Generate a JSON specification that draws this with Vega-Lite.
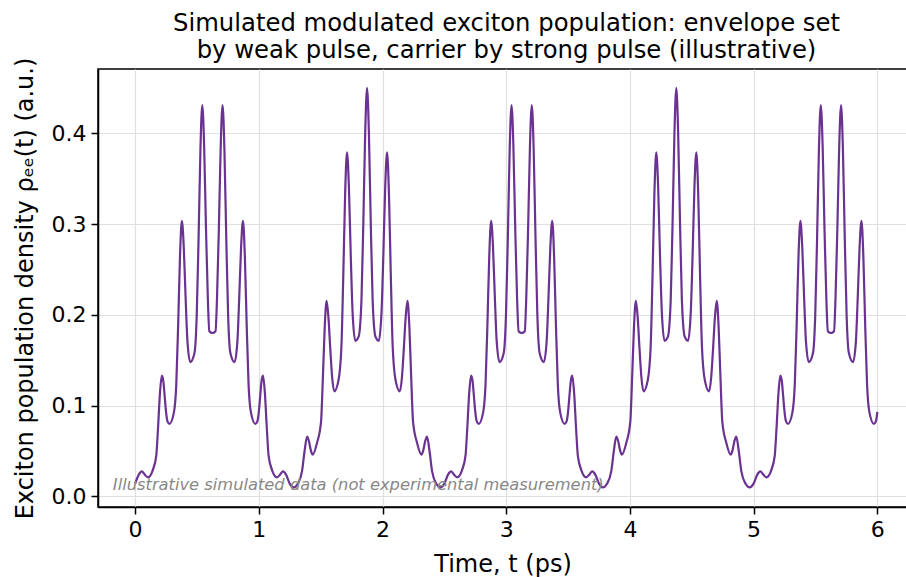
{
 "$schema": "https://vega.github.io/schema/vega-lite/v6.json",
 "width": 809,
 "height": 438,
 "autosize": {"type": "none"},
 "padding": {"left": 98, "top": 69, "right": 0, "bottom": 70},
 "background": "white",
 "config": {
  "font": "DejaVu Sans",
  "view": {"stroke": "#000", "strokeWidth": 1.5},
  "axis": {
   "labelFont": "DejaVu Sans", "titleFont": "DejaVu Sans",
   "labelFontSize": 22, "titleFontSize": 24, "titleFontWeight": "normal",
   "labelColor": "#000", "titleColor": "#000",
   "tickColor": "#000", "tickWidth": 1.5, "tickSize": 7,
   "domainColor": "#000", "domainWidth": 1.5,
   "grid": true, "gridColor": "#e0e0e0", "gridWidth": 1.2,
   "labelPadding": 5
  }
 },
 "title": {
  "text": ["Simulated modulated exciton population: envelope set", "by weak pulse, carrier by strong pulse (illustrative)"],
  "font": "DejaVu Sans", "fontSize": 24.3, "fontWeight": "normal", "color": "#000",
  "lineHeight": 27, "anchor": "middle", "dx": 4, "offset": 14, "baseline": "alphabetic", "dy": 39
 },
 "layer": [
  {
   "data": {"values": [
{"t":0.000,"v":0.014},{"t":0.030,"v":0.024},{"t":0.054,"v":0.0275},{"t":0.078,"v":0.024},{"t":0.103,"v":0.021},{"t":0.143,"v":0.029},{"t":0.171,"v":0.045},{"t":0.186,"v":0.077},{"t":0.201,"v":0.114},{"t":0.216,"v":0.133},{"t":0.228,"v":0.127},{"t":0.238,"v":0.112},{"t":0.250,"v":0.093},{"t":0.261,"v":0.083},{"t":0.278,"v":0.080},{"t":0.313,"v":0.092},{"t":0.333,"v":0.124},{"t":0.348,"v":0.189},{"t":0.363,"v":0.265},{"t":0.378,"v":0.3035},{"t":0.393,"v":0.2755},{"t":0.408,"v":0.220},{"t":0.423,"v":0.171},{"t":0.446,"v":0.148},{"t":0.480,"v":0.158},{"t":0.498,"v":0.199},{"t":0.513,"v":0.284},{"t":0.528,"v":0.382},{"t":0.543,"v":0.431},{"t":0.558,"v":0.386},{"t":0.573,"v":0.295},{"t":0.588,"v":0.218},{"t":0.600,"v":0.182},{"t":0.625,"v":0.180},{"t":0.650,"v":0.182},{"t":0.662,"v":0.218},{"t":0.677,"v":0.295},{"t":0.692,"v":0.386},{"t":0.707,"v":0.431},{"t":0.722,"v":0.382},{"t":0.737,"v":0.284},{"t":0.752,"v":0.199},{"t":0.770,"v":0.158},{"t":0.804,"v":0.148},{"t":0.827,"v":0.171},{"t":0.842,"v":0.220},{"t":0.857,"v":0.2755},{"t":0.872,"v":0.3035},{"t":0.887,"v":0.265},{"t":0.902,"v":0.189},{"t":0.917,"v":0.124},{"t":0.937,"v":0.092},{"t":0.972,"v":0.080},{"t":0.989,"v":0.083},{"t":1.000,"v":0.093},{"t":1.012,"v":0.112},{"t":1.022,"v":0.127},{"t":1.034,"v":0.133},{"t":1.049,"v":0.114},{"t":1.064,"v":0.077},{"t":1.079,"v":0.045},{"t":1.107,"v":0.029},{"t":1.147,"v":0.021},{"t":1.172,"v":0.024},{"t":1.196,"v":0.0275},{"t":1.220,"v":0.024},{"t":1.250,"v":0.014},{"t":1.281,"v":0.0099},{"t":1.315,"v":0.014},{"t":1.349,"v":0.0275},{"t":1.370,"v":0.050},{"t":1.390,"v":0.066},{"t":1.405,"v":0.061},{"t":1.420,"v":0.051},{"t":1.435,"v":0.046},{"t":1.470,"v":0.0587},{"t":1.503,"v":0.082},{"t":1.518,"v":0.131},{"t":1.533,"v":0.187},{"t":1.548,"v":0.2155},{"t":1.563,"v":0.197},{"t":1.578,"v":0.162},{"t":1.593,"v":0.131},{"t":1.610,"v":0.1157},{"t":1.645,"v":0.1285},{"t":1.668,"v":0.166},{"t":1.683,"v":0.244},{"t":1.698,"v":0.334},{"t":1.713,"v":0.379},{"t":1.728,"v":0.342},{"t":1.743,"v":0.267},{"t":1.758,"v":0.203},{"t":1.780,"v":0.1714},{"t":1.807,"v":0.176},{"t":1.830,"v":0.217},{"t":1.845,"v":0.302},{"t":1.860,"v":0.400},{"t":1.875,"v":0.450},{"t":1.890,"v":0.400},{"t":1.905,"v":0.302},{"t":1.920,"v":0.217},{"t":1.943,"v":0.176},{"t":1.970,"v":0.1714},{"t":1.992,"v":0.203},{"t":2.007,"v":0.267},{"t":2.022,"v":0.342},{"t":2.037,"v":0.379},{"t":2.052,"v":0.334},{"t":2.067,"v":0.244},{"t":2.082,"v":0.166},{"t":2.105,"v":0.1285},{"t":2.140,"v":0.1157},{"t":2.157,"v":0.131},{"t":2.172,"v":0.162},{"t":2.187,"v":0.197},{"t":2.202,"v":0.2155},{"t":2.217,"v":0.187},{"t":2.232,"v":0.131},{"t":2.247,"v":0.082},{"t":2.280,"v":0.0587},{"t":2.315,"v":0.046},{"t":2.330,"v":0.051},{"t":2.345,"v":0.061},{"t":2.360,"v":0.066},{"t":2.380,"v":0.050},{"t":2.401,"v":0.0275},{"t":2.435,"v":0.014},{"t":2.469,"v":0.0099},
{"t":2.500,"v":0.014},{"t":2.530,"v":0.024},{"t":2.554,"v":0.0275},{"t":2.578,"v":0.024},{"t":2.603,"v":0.021},{"t":2.643,"v":0.029},{"t":2.671,"v":0.045},{"t":2.686,"v":0.077},{"t":2.701,"v":0.114},{"t":2.716,"v":0.133},{"t":2.728,"v":0.127},{"t":2.738,"v":0.112},{"t":2.750,"v":0.093},{"t":2.761,"v":0.083},{"t":2.778,"v":0.080},{"t":2.813,"v":0.092},{"t":2.833,"v":0.124},{"t":2.848,"v":0.189},{"t":2.863,"v":0.265},{"t":2.878,"v":0.3035},{"t":2.893,"v":0.2755},{"t":2.908,"v":0.220},{"t":2.923,"v":0.171},{"t":2.946,"v":0.148},{"t":2.980,"v":0.158},{"t":2.998,"v":0.199},{"t":3.013,"v":0.284},{"t":3.028,"v":0.382},{"t":3.043,"v":0.431},{"t":3.058,"v":0.386},{"t":3.073,"v":0.295},{"t":3.088,"v":0.218},{"t":3.100,"v":0.182},{"t":3.125,"v":0.180},{"t":3.150,"v":0.182},{"t":3.162,"v":0.218},{"t":3.177,"v":0.295},{"t":3.192,"v":0.386},{"t":3.207,"v":0.431},{"t":3.222,"v":0.382},{"t":3.237,"v":0.284},{"t":3.252,"v":0.199},{"t":3.270,"v":0.158},{"t":3.304,"v":0.148},{"t":3.327,"v":0.171},{"t":3.342,"v":0.220},{"t":3.357,"v":0.2755},{"t":3.372,"v":0.3035},{"t":3.387,"v":0.265},{"t":3.402,"v":0.189},{"t":3.417,"v":0.124},{"t":3.437,"v":0.092},{"t":3.472,"v":0.080},{"t":3.489,"v":0.083},{"t":3.500,"v":0.093},{"t":3.512,"v":0.112},{"t":3.522,"v":0.127},{"t":3.534,"v":0.133},{"t":3.549,"v":0.114},{"t":3.564,"v":0.077},{"t":3.579,"v":0.045},{"t":3.607,"v":0.029},{"t":3.647,"v":0.021},{"t":3.672,"v":0.024},{"t":3.696,"v":0.0275},{"t":3.720,"v":0.024},{"t":3.750,"v":0.014},{"t":3.781,"v":0.0099},{"t":3.815,"v":0.014},{"t":3.849,"v":0.0275},{"t":3.870,"v":0.050},{"t":3.890,"v":0.066},{"t":3.905,"v":0.061},{"t":3.920,"v":0.051},{"t":3.935,"v":0.046},{"t":3.970,"v":0.0587},{"t":4.003,"v":0.082},{"t":4.018,"v":0.131},{"t":4.033,"v":0.187},{"t":4.048,"v":0.2155},{"t":4.063,"v":0.197},{"t":4.078,"v":0.162},{"t":4.093,"v":0.131},{"t":4.110,"v":0.1157},{"t":4.145,"v":0.1285},{"t":4.168,"v":0.166},{"t":4.183,"v":0.244},{"t":4.198,"v":0.334},{"t":4.213,"v":0.379},{"t":4.228,"v":0.342},{"t":4.243,"v":0.267},{"t":4.258,"v":0.203},{"t":4.280,"v":0.1714},{"t":4.307,"v":0.176},{"t":4.330,"v":0.217},{"t":4.345,"v":0.302},{"t":4.360,"v":0.400},{"t":4.375,"v":0.450},{"t":4.390,"v":0.400},{"t":4.405,"v":0.302},{"t":4.420,"v":0.217},{"t":4.443,"v":0.176},{"t":4.470,"v":0.1714},{"t":4.492,"v":0.203},{"t":4.507,"v":0.267},{"t":4.522,"v":0.342},{"t":4.537,"v":0.379},{"t":4.552,"v":0.334},{"t":4.567,"v":0.244},{"t":4.582,"v":0.166},{"t":4.605,"v":0.1285},{"t":4.640,"v":0.1157},{"t":4.657,"v":0.131},{"t":4.672,"v":0.162},{"t":4.687,"v":0.197},{"t":4.702,"v":0.2155},{"t":4.717,"v":0.187},{"t":4.732,"v":0.131},{"t":4.747,"v":0.082},{"t":4.780,"v":0.0587},{"t":4.815,"v":0.046},{"t":4.830,"v":0.051},{"t":4.845,"v":0.061},{"t":4.860,"v":0.066},{"t":4.880,"v":0.050},{"t":4.901,"v":0.0275},{"t":4.935,"v":0.014},{"t":4.969,"v":0.0099},
{"t":5.000,"v":0.014},{"t":5.030,"v":0.024},{"t":5.054,"v":0.0275},{"t":5.078,"v":0.024},{"t":5.103,"v":0.021},{"t":5.143,"v":0.029},{"t":5.171,"v":0.045},{"t":5.186,"v":0.077},{"t":5.201,"v":0.114},{"t":5.216,"v":0.133},{"t":5.228,"v":0.127},{"t":5.238,"v":0.112},{"t":5.250,"v":0.093},{"t":5.261,"v":0.083},{"t":5.278,"v":0.080},{"t":5.313,"v":0.092},{"t":5.333,"v":0.124},{"t":5.348,"v":0.189},{"t":5.363,"v":0.265},{"t":5.378,"v":0.3035},{"t":5.393,"v":0.2755},{"t":5.408,"v":0.220},{"t":5.423,"v":0.171},{"t":5.446,"v":0.148},{"t":5.480,"v":0.158},{"t":5.498,"v":0.199},{"t":5.513,"v":0.284},{"t":5.528,"v":0.382},{"t":5.543,"v":0.431},{"t":5.558,"v":0.386},{"t":5.573,"v":0.295},{"t":5.588,"v":0.218},{"t":5.600,"v":0.182},{"t":5.625,"v":0.180},{"t":5.650,"v":0.182},{"t":5.662,"v":0.218},{"t":5.677,"v":0.295},{"t":5.692,"v":0.386},{"t":5.707,"v":0.431},{"t":5.722,"v":0.382},{"t":5.737,"v":0.284},{"t":5.752,"v":0.199},{"t":5.770,"v":0.158},{"t":5.804,"v":0.148},{"t":5.827,"v":0.171},{"t":5.842,"v":0.220},{"t":5.857,"v":0.2755},{"t":5.872,"v":0.3035},{"t":5.887,"v":0.265},{"t":5.902,"v":0.189},{"t":5.917,"v":0.124},{"t":5.937,"v":0.092},{"t":5.972,"v":0.080},{"t":5.989,"v":0.083},{"t":6.000,"v":0.093}
   ]},
   "mark": {"type": "line", "interpolate": "monotone", "color": "#6a3291", "strokeWidth": 2.2},
   "encoding": {
    "x": {"field": "t", "type": "quantitative",
          "scale": {"domain": [-0.3, 6.24], "nice": false, "zero": false},
          "axis": {"title": "Time, t (ps)", "values": [0,1,2,3,4,5,6], "format": "d", "titlePadding": 12}},
    "y": {"field": "v", "type": "quantitative",
          "scale": {"domain": [-0.0117, 0.4709], "nice": false, "zero": false},
          "axis": {"title": "Exciton population density ρₑₑ(t) (a.u.)", "values": [0, 0.1, 0.2, 0.3, 0.4], "format": ".1f", "titlePadding": 14}}
   }
  },
  {
   "data": {"values": [{}]},
   "mark": {"type": "text", "align": "left", "baseline": "alphabetic", "fontStyle": "italic", "fontSize": 16.3, "font": "DejaVu Sans", "color": "#888888"},
   "encoding": {
    "x": {"datum": -0.18},
    "y": {"datum": 0.0073},
    "text": {"value": "Illustrative simulated data (not experimental measurement)"}
   }
  }
 ]
}
